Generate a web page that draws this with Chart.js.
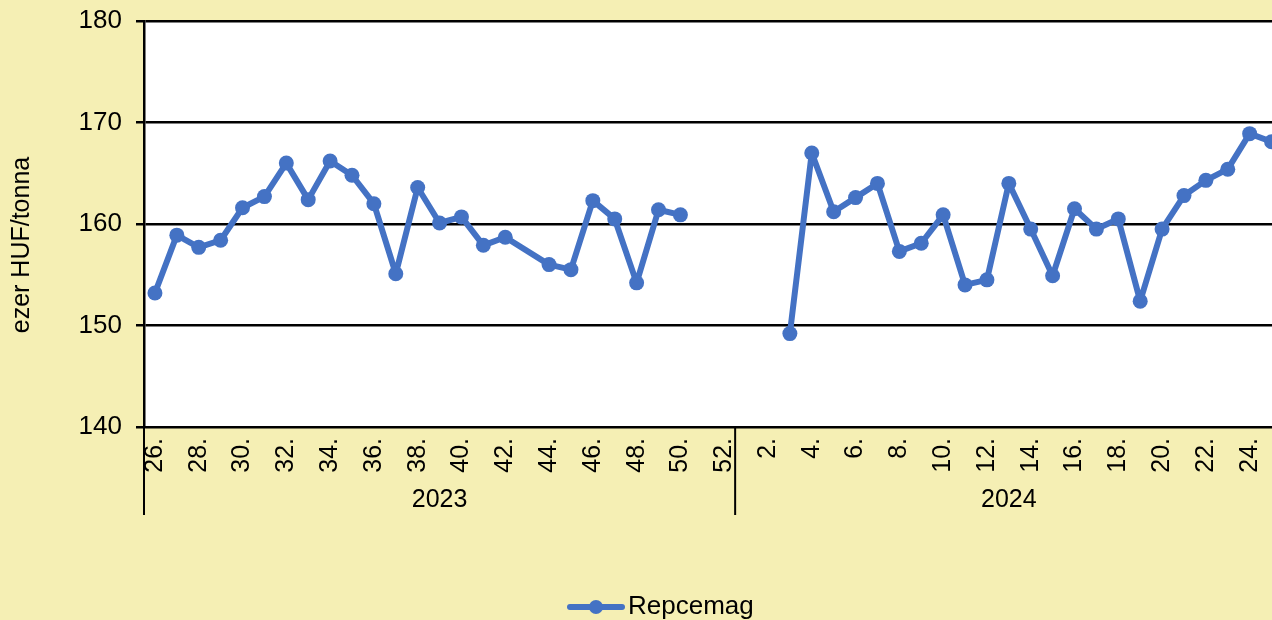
<!DOCTYPE html>
<html>
<head>
<meta charset="utf-8">
<script src="https://cdn.jsdelivr.net/npm/chart.js@4.4.1/dist/chart.umd.min.js"></script>
<style>
  html, body { margin: 0; padding: 0; overflow: hidden; background: #F5EFB4; }
  #chart { display: block; }
</style>
</head>
<body>
<canvas id="chart" width="1290" height="620"></canvas>
<script>
// weekly rapeseed price, thousand HUF / tonne
const years = ["2023", "2024"];
const weeks2023 = [26, 27, 28, 29, 30, 31, 32, 33, 34, 35, 36, 37, 38, 39, 40, 41, 42, 43, 44, 45, 46, 47, 48, 49, 50, 51, 52];
const weeks2024 = [1, 2, 3, 4, 5, 6, 7, 8, 9, 10, 11, 12, 13, 14, 15, 16, 17, 18, 19, 20, 21, 22, 23, 24, 25];
const prices2023 = [153.2, 158.9, 157.7, 158.4, 161.6, 162.7, 166.0, 162.4, 166.2, 164.8, 162.0, 155.1, 163.6,
                    160.1, 160.7, 157.9, 158.7, null, 156.0, 155.5, 162.3, 160.5, 154.2, 161.4, 160.9, null, null];
const prices2024 = [null, null, 149.2, 167.0, 161.2, 162.6, 164.0, 157.3, 158.1, 160.9, 154.0, 154.5, 164.0,
                    159.5, 154.9, 161.5, 159.5, 160.5, 152.4, 159.5, 162.8, 164.3, 165.4, 168.9, 168.1];
const yTicks = [140, 150, 160, 170, 180];
const seriesName = "Repcemag";
const yTitle = "ezer HUF/tonna";

const FONT = "'Liberation Sans', Arial, sans-serif";
const BLUE = "#4472C4";
const BG = "#F5EFB4";

const weeks = weeks2023.concat(weeks2024);
const labels = weeks.map(w => w + ".");
const prices = prices2023.concat(prices2024);
// leave out missing weeks so spanGaps can bridge a single missing week
const points = labels.map((l, i) => ({ x: l, y: prices[i] })).filter(p => p.y !== null);

const decor = {
  id: "decor",
  beforeDraw(chart) {
    const { ctx, chartArea: a } = chart;
    ctx.save();
    ctx.fillStyle = BG;
    ctx.fillRect(0, 0, chart.width, chart.height);
    ctx.fillStyle = "#fff";
    ctx.fillRect(a.left, a.top, a.right - a.left, a.bottom - a.top);
    ctx.restore();
  },
  afterDraw(chart) {
    const { ctx, chartArea: a } = chart;
    const x = chart.scales.x;
    const half = (x.getPixelForValue(1) - x.getPixelForValue(0)) / 2;
    const edges = [
      x.getPixelForValue(0) - half,
      x.getPixelForValue(weeks2023.length) - half,
      x.getPixelForValue(labels.length - 1) + half
    ];
    ctx.save();
    // year group separators
    ctx.strokeStyle = "#000";
    ctx.lineWidth = 2;
    edges.forEach(px => {
      ctx.beginPath();
      ctx.moveTo(px, a.bottom);
      ctx.lineTo(px, 515);
      ctx.stroke();
    });
    ctx.fillStyle = "#000";
    ctx.font = "25px " + FONT;
    ctx.textAlign = "center";
    ctx.textBaseline = "middle";
    years.forEach((yr, i) => ctx.fillText(yr, (edges[i] + edges[i + 1]) / 2, 500));

    // y axis title
    ctx.save();
    ctx.translate(22, 245);
    ctx.rotate(-Math.PI / 2);
    ctx.fillText(yTitle, 0, 0);
    ctx.restore();

    // legend
    ctx.strokeStyle = BLUE;
    ctx.lineWidth = 6;
    ctx.lineCap = "round";
    ctx.beginPath();
    ctx.moveTo(570, 607);
    ctx.lineTo(622, 607);
    ctx.stroke();
    ctx.fillStyle = BLUE;
    ctx.beginPath();
    ctx.arc(596, 607, 7, 0, Math.PI * 2);
    ctx.fill();
    ctx.fillStyle = "#000";
    ctx.font = "26px " + FONT;
    ctx.textAlign = "left";
    ctx.fillText(seriesName, 628, 607);
    ctx.restore();
  }
};

new Chart(document.getElementById("chart"), {
  type: "line",
  data: {
    labels: labels,
    datasets: [{
      label: seriesName,
      data: points,
      borderColor: BLUE,
      backgroundColor: BLUE,
      borderWidth: 6,
      borderJoinStyle: "round",
      borderCapStyle: "round",
      pointRadius: 7.5,
      pointBorderWidth: 0,
      pointBackgroundColor: BLUE,
      spanGaps: 2,
      tension: 0,
      clip: false
    }]
  },
  options: {
    responsive: false,
    animation: false,
    layout: { padding: { top: 21, left: 0, right: 0, bottom: 0 } },
    plugins: {
      legend: { display: false },
      tooltip: { enabled: false }
    },
    scales: {
      x: {
        type: "category",
        offset: true,
        grid: { display: false, drawTicks: false },
        border: { display: true, color: "#000", width: 2 },
        ticks: {
          autoSkip: false,
          minRotation: 90,
          maxRotation: 90,
          padding: 11,
          color: "#000",
          font: { family: FONT, size: 25 },
          callback: function (v, i) { return weeks[i] % 2 === 0 ? labels[i] : ""; }
        },
        afterFit(scale) {
          scale.height = 193;
          scale.paddingLeft = 0;
          scale.paddingRight = 0;
        }
      },
      y: {
        min: yTicks[0],
        max: yTicks[yTicks.length - 1],
        afterBuildTicks(scale) { scale.ticks = yTicks.map(v => ({ value: v })); },
        grid: { color: "#000", lineWidth: 2.5, drawTicks: true, tickLength: 8, tickColor: "#000" },
        border: { display: true, color: "#000", width: 2.5 },
        ticks: {
          padding: 14,
          color: "#000",
          font: { family: FONT, size: 26 }
        },
        afterFit(scale) {
          scale.width = 144;
          scale.paddingTop = 0;
          scale.paddingBottom = 0;
        }
      }
    }
  },
  plugins: [decor]
});
</script>
</body>
</html>
